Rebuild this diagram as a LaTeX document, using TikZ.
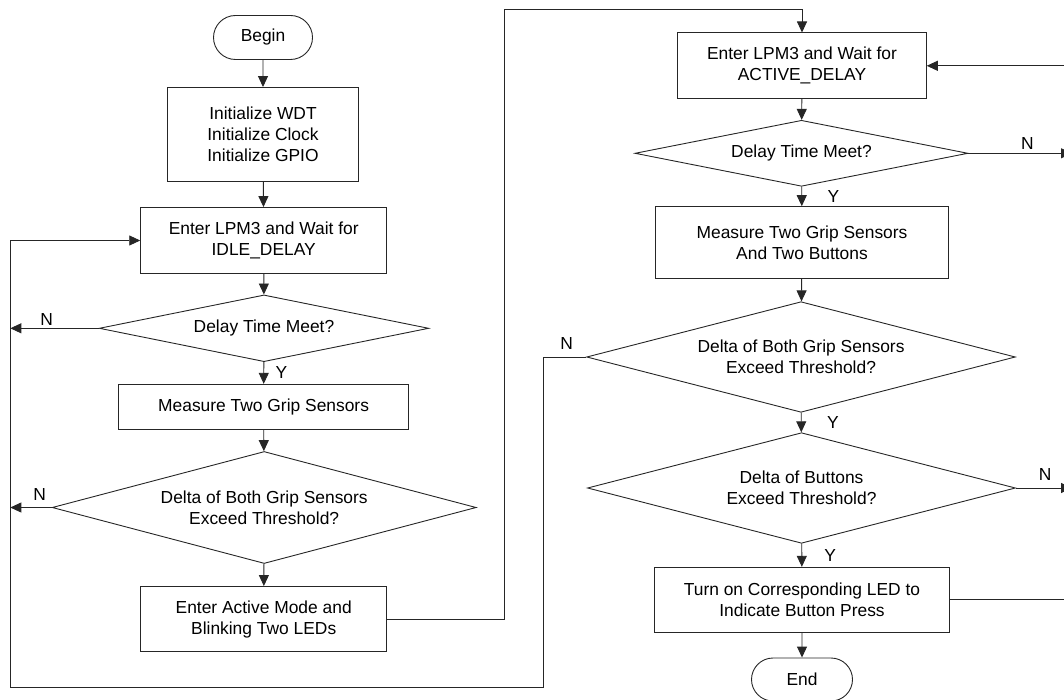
\documentclass[tikz,border=0pt]{standalone}
\usepackage{fontspec}
\setmainfont{Liberation Sans}
\usepackage{tikz}
\usetikzlibrary{shapes.geometric, shapes.misc, arrows.meta, calc}

\begin{document}
\begin{tikzpicture}[x=1pt, y=-1pt,
	every node/.style={font=\fontsize{17.4}{21}\selectfont, align=center},
	proc/.style={draw=black!85, line width=0.9pt, rectangle, inner sep=0pt},
	term/.style={draw=black!85, line width=0.9pt, rounded rectangle, inner sep=0pt},
	dec/.style={draw=black!85, line width=0.9pt, diamond, aspect=3, inner sep=0pt},
	arr/.style={draw=black!85, line width=0.9pt, -{Triangle[length=11pt, width=10pt]}},
	lbl/.style={inner sep=0pt}]
	\useasboundingbox (0,0) rectangle (1064,700);

	\node[term, minimum width=99, minimum height=44] (begin) at (263,37.5) {Begin};
	\node[proc, minimum width=191, minimum height=94] (init) at (263,134.5) {Initialize WDT\\Initialize Clock\\Initialize GPIO};
	\node[proc, minimum width=246, minimum height=66] (idle) at (263.7,240.5) {Enter LPM3 and Wait for\\IDLE\_DELAY};
	\node[dec, minimum width=329.5, minimum height=66.7] (dly1) at (264,328.3) {Delay Time Meet?};
	\node[proc, minimum width=290, minimum height=45] (meas1) at (263.6,406.8) {Measure Two Grip Sensors};
	\node[dec, minimum width=424, minimum height=112] (grip1) at (264.2,507.5) {Delta of Both Grip Sensors\\Exceed Threshold?};
	\node[proc, minimum width=246, minimum height=65] (act) at (263.7,619) {Enter Active Mode and\\Blinking Two LEDs};

	\node[proc, minimum width=248.6, minimum height=65.7] (act2) at (802,65.8) {Enter LPM3 and Wait for\\ACTIVE\_DELAY};
	\node[dec, minimum width=333, minimum height=66] (dly2) at (801.5,153.3) {Delay Time Meet?};
	\node[proc, minimum width=293.4, minimum height=71.7] (meas2) at (802,242.5) {Measure Two Grip Sensors\\And Two Buttons};
	\node[dec, minimum width=428.7, minimum height=110.6] (grip2) at (801,357) {Delta of Both Grip Sensors\\Exceed Threshold?};
	\node[dec, minimum width=428, minimum height=110.6] (btn) at (801.5,488) {Delta of Buttons\\Exceed Threshold?};
	\node[proc, minimum width=294.7, minimum height=65] (led) at (802,599.8) {Turn on Corresponding LED to\\Indicate Button Press};
	\node[term, minimum width=101, minimum height=43] (end) at (802,679.5) {End};

	\coordinate (ll) at (10.3,0);
	\coordinate (rr) at (1072,0);
	\coordinate (tp) at (504.5,9.3);
	\coordinate (jn) at (543,687.3);

	\foreach \a/\b in {begin/init, init/idle, idle/dly1, meas1/grip1, grip1/act,
		act2/dly2, meas2/grip2, led/end}
		\draw[arr] (\a) -- (\b);

	\draw[arr] (dly1) -- node[lbl, right=11.5pt] (y1) {Y} (meas1);
	\draw[arr] (dly2) -- node[lbl, right=25.5pt] (y2) {Y} (meas2);
	\draw[arr] (grip2) -- node[lbl, right=25.5pt] (y3) {Y} (btn);
	\draw[arr] (btn) -- node[lbl, right=22pt] (y4) {Y} (led);

	\draw[arr] (dly1.west) -- node[lbl, above=2pt, pos=0.59] (n1) {N} (ll |- dly1);
	\draw[arr] (grip1.west) -- node[lbl, above=7pt, pos=0.29] (n2) {N} (ll |- grip1);
	\draw[arr] (dly2.east) -- node[lbl, above=3pt, pos=0.57] (n3) {N} (rr |- dly2);
	\draw[arr] (btn.east) -- node[lbl, above=7pt, pos=0.52] (n4) {N} (rr |- btn);

	\draw[arr] (grip2.west) -- node[lbl, above=7pt, pos=0.45] (n5) {N} (jn |- grip2)
		-- (jn) -- (ll |- jn) -- (ll |- idle) -- (idle.west);
	\draw[arr] (act.east) -- (tp |- act) -- (tp) -- (act2 |- tp) -- (act2.north);
	\draw[arr] (led.east) -- (rr |- led) -- (rr |- act2) -- (act2.east);
\end{tikzpicture}
\end{document}
